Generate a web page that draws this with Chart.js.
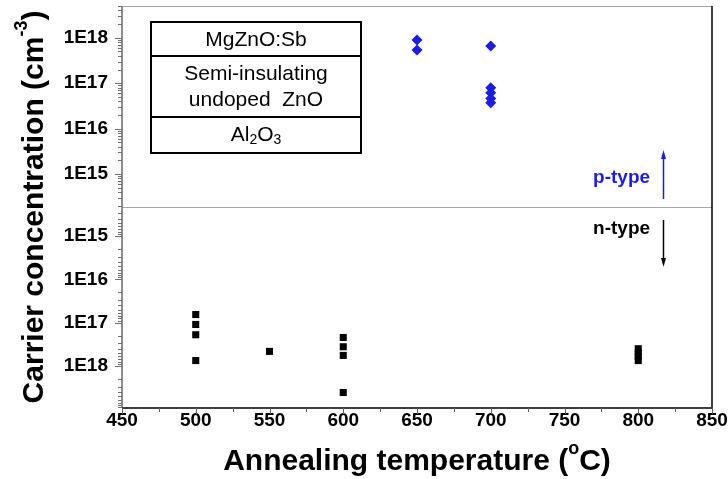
<!DOCTYPE html>
<html>
<head>
<meta charset="utf-8">
<script src="https://cdn.jsdelivr.net/npm/chart.js@4/dist/chart.umd.min.js"></script>
<style>
  html, body { margin: 0; padding: 0; background: #fff; }
  #wrap { width: 728px; height: 479px; }
</style>
</head>
<body>
<div id="wrap"><canvas id="chart" width="728" height="479"></canvas></div>
<script>
// ===== data =====
const pTemps = [650, 650, 700, 700, 700, 700, 700]
const pConc = [9.0e17, 5.4e17, 6.6e17, 7.9e16, 6.2e16, 4.6e16, 3.7e16]

const nTemps = [500, 500, 500, 500, 550, 600, 600, 600, 600, 800, 800, 800, 800]
const nConc = [6.5e16, 1.1e17, 1.9e17, 7.5e17, 4.6e17, 2.2e17, 3.6e17, 5.7e17, 4.1e18, 4.0e17, 5.0e17, 6.0e17, 7.5e17]

const xTicks = [450, 500, 550, 600, 650, 700, 750, 800, 850]
const yTicks = [1e15, 1e16, 1e17, 1e18]
const layerLabels = ['MgZnO:Sb', 'Semi-insulating', 'undoped  ZnO', 'Al2O3']

const FONT = "'Liberation Sans', Arial, sans-serif"
const BLUE = '#1c1cdc'

Chart.defaults.font.family = FONT
Chart.defaults.color = '#000'

const expLabel = v => '1E' + Math.round(Math.log10(v))

// minor ticks + borders + annotations
const decoPlugin = {
  id: 'deco',
  afterDraw(chart) {
    const { ctx, chartArea: a, scales } = chart
    const x = scales.x, yp = scales.yp, yn = scales.yn
    const mid = yp.bottom
    ctx.save()

    // frame lines
    ctx.lineWidth = 1
    ctx.strokeStyle = '#a8a8a8'
    line(ctx, a.left, a.top + 0.5, a.right, a.top + 0.5)
    line(ctx, a.left, mid + 0.5, a.right, mid + 0.5)
    ctx.strokeStyle = '#000'
    ctx.lineWidth = 1.5
    line(ctx, a.right, a.top, a.right, a.bottom)
    ctx.strokeStyle = '#8c8c8c'
    ctx.lineWidth = 2
    line(ctx, a.left, a.top, a.left, a.bottom)
    ctx.strokeStyle = '#404040'
    line(ctx, a.left, a.bottom, a.right + 1, a.bottom)

    // y ticks, both halves
    ctx.lineWidth = 1
    ctx.strokeStyle = '#707070'
    ;[yp, yn].forEach(s => {
      for (let e = 14; e <= 19; e++) {
        for (let m = 1; m <= 9; m++) {
          const v = m * Math.pow(10, e)
          if (v < s.min || v > s.max) continue
          const py = Math.round(s.getPixelForValue(v)) + 0.5
          const len = m === 1 ? 7 : 4
          line(ctx, a.left - len, py, a.left, py)
        }
      }
    })
    // x ticks
    ctx.strokeStyle = '#606060'
    for (let v = 450; v <= 850; v += 25) {
      const px = Math.round(x.getPixelForValue(v)) + 0.5
      line(ctx, px, a.bottom, px, a.bottom + (v % 50 === 0 ? 6 : 4))
    }

    // axis titles
    ctx.fillStyle = '#000'
    ctx.textBaseline = 'middle'
    drawRich(ctx, [['Annealing temperature (', 30], ['o', 18, -13], ['C)', 30]],
      (a.left + a.right) / 2, 462, 'bold')
    ctx.save()
    ctx.translate(35, (a.top + a.bottom) / 2)
    ctx.rotate(-Math.PI / 2)
    drawRich(ctx, [['Carrier concentration (cm', 30], ['-3', 18, -13], [')', 30]], 0, 0, 'bold')
    ctx.restore()

    // layer stack box
    const bx = a.left + 29, bw = 210
    const rows = [22, 56, 117, 153]
    ctx.lineWidth = 2
    ctx.strokeStyle = '#000'
    ctx.strokeRect(bx, rows[0], bw, rows[3] - rows[0])
    line(ctx, bx, rows[1], bx + bw, rows[1])
    line(ctx, bx, rows[2], bx + bw, rows[2])
    const cx = bx + bw / 2
    ctx.textAlign = 'center'
    ctx.font = '21px ' + FONT
    ctx.fillText(layerLabels[0], cx, 40)
    ctx.fillText(layerLabels[1], cx, 74)
    ctx.fillText(layerLabels[2], cx, 100)
    drawRich(ctx, [['Al', 21], ['2', 14, 5], ['O', 21], ['3', 14, 5]], cx, 135, '')

    // p-type / n-type markers
    const ax = Math.round(x.getPixelForValue(817)) + 0.5
    ctx.textAlign = 'right'
    ctx.font = 'bold 19px ' + FONT
    ctx.fillStyle = BLUE
    ctx.fillText('p-type', x.getPixelForValue(808), mid - 29)
    ctx.strokeStyle = BLUE
    ctx.lineWidth = 1.5
    line(ctx, ax, mid - 8, ax, mid - 52)
    arrowHead(ctx, ax, mid - 57, -1, BLUE)
    ctx.fillStyle = '#000'
    ctx.fillText('n-type', x.getPixelForValue(808), mid + 22)
    ctx.strokeStyle = '#000'
    line(ctx, ax, mid + 13, ax, mid + 55)
    arrowHead(ctx, ax, mid + 60, 1, '#000')

    ctx.restore()
  }
}

function line(ctx, x1, y1, x2, y2) {
  ctx.beginPath()
  ctx.moveTo(x1, y1)
  ctx.lineTo(x2, y2)
  ctx.stroke()
}

function arrowHead(ctx, x, tipY, dir, color) {
  ctx.fillStyle = color
  ctx.beginPath()
  ctx.moveTo(x, tipY)
  ctx.lineTo(x - 2.5, tipY - dir * 9)
  ctx.lineTo(x + 2.5, tipY - dir * 9)
  ctx.closePath()
  ctx.fill()
}

// text parts: [text, size, baselineShift]
function drawRich(ctx, parts, cx, cy, weight) {
  ctx.save()
  ctx.textAlign = 'left'
  ctx.textBaseline = 'middle'
  let total = 0
  const widths = parts.map(p => {
    ctx.font = `${weight} ${p[1]}px ${FONT}`
    const w = ctx.measureText(p[0]).width
    total += w
    return w
  })
  let px = cx - total / 2
  parts.forEach((p, i) => {
    ctx.font = `${weight} ${p[1]}px ${FONT}`
    ctx.fillText(p[0], px, cy + (p[2] || 0))
    px += widths[i]
  })
  ctx.restore()
}

const logAxis = (min, max, reverse, weight) => ({
  type: 'logarithmic',
  position: 'left',
  stack: 'conc',
  stackWeight: 1,
  weight: weight,
  reverse: reverse,
  min: min,
  max: max,
  grid: { display: false, tickLength: 0 },
  border: { display: false },
  afterBuildTicks: s => { s.ticks = yTicks.map(v => ({ value: v })) },
  afterFit: s => { s.width = 122; s.paddingTop = 0; s.paddingBottom = 0 },
  ticks: {
    callback: v => expLabel(v),
    font: { size: 19, weight: 'bold' },
    color: '#000',
    padding: 14,
    autoSkip: false
  }
})

new Chart(document.getElementById('chart'), {
  type: 'scatter',
  data: {
    datasets: [
      {
        label: 'p-type',
        data: pTemps.map((t, i) => ({ x: t, y: pConc[i] })),
        yAxisID: 'yp',
        pointStyle: 'rectRot',
        pointRadius: 5.5,
        backgroundColor: BLUE,
        borderColor: BLUE,
        borderWidth: 0
      },
      {
        label: 'n-type',
        data: nTemps.map((t, i) => ({ x: t, y: nConc[i] })),
        yAxisID: 'yn',
        pointStyle: 'rect',
        pointRadius: 5,
        backgroundColor: '#000',
        borderColor: '#000',
        borderWidth: 0
      }
    ]
  },
  options: {
    responsive: false,
    animation: false,
    layout: { padding: { top: 6, right: 16, left: 0, bottom: 0 } },
    plugins: { legend: { display: false }, tooltip: { enabled: false } },
    scales: {
      x: {
        type: 'linear',
        min: 450,
        max: 850,
        grid: { display: false, tickLength: 0 },
        border: { display: false },
        afterBuildTicks: s => { s.ticks = xTicks.map(v => ({ value: v })) },
        afterFit: s => { s.height = 71; s.paddingLeft = 0; s.paddingRight = 0 },
        ticks: { font: { size: 19, weight: 'bold' }, color: '#000', padding: 1, maxRotation: 0 }
      },
      yp: logAxis(Math.pow(10, 14.275), Math.pow(10, 18.70), false, 1),
      yn: logAxis(Math.pow(10, 14.33), Math.pow(10, 18.97), true, 0)
    }
  },
  plugins: [decoPlugin]
})
</script>
</body>
</html>
